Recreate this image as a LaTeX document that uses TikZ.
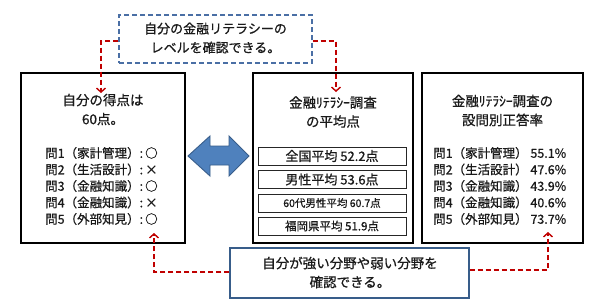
\documentclass[tikz,border=0pt]{standalone}
\usepackage{fontspec}
\setmainfont{Noto Sans CJK JP}[RawFeature={embolden=0.7}]
\usetikzlibrary{arrows.meta}
\definecolor{reddash}{HTML}{C00000}
\definecolor{bluedash}{HTML}{4A6FA5}
\definecolor{bluebox}{HTML}{4F81BD}
\definecolor{bluedark}{HTML}{385D8A}
\definecolor{txt}{HTML}{1A1A1A}
\begin{document}
\begin{tikzpicture}[x=1pt,y=-1pt,
  bigbox/.style={draw=black,line width=2pt,minimum width=#1,minimum height=170,inner sep=0pt},
  subbox/.style={draw=black!85,line width=0.9pt,minimum width=148,minimum height=18,inner sep=0pt,text=txt},
  head/.style={align=center,text=txt,font=\fontsize{13.5}{19}\selectfont,inner sep=0pt},
  list/.style={align=left,text=txt,font=\fontsize{12.5}{16.5}\selectfont,inner sep=0pt},
  link/.style={draw=reddash,line width=1.4pt,dash pattern=on 5pt off 3pt,-{Straight Barb[length=4pt,width=9pt,line width=1.4pt]}}
]
\useasboundingbox (0,0) rectangle (600,303);
\fill[white] (0,0) rectangle (600,303);

% top note
\node[draw=bluedash,line width=1.4pt,dash pattern=on 5pt off 3pt,minimum width=193,minimum height=48,inner sep=0pt] (top) at (215.5,39) {};
\node[head,font=\fontsize{13}{19}\selectfont] (toptxt) at (215.5,38) {自分の金融リテラシーの\\レベルを確認できる。};

% left box
\node[bigbox=164] (L) at (103,158) {};
\node[head] (Lh) at (103,109.5) {自分の得点は\\60点。};
\node[list,anchor=west] (Ll) at (45,186) {問1（家計管理）:\,○\\問2（生活設計）:\,×\\問3（金融知識）:\,○\\問4（金融知識）:\,×\\問5（外部知見）:\,○};

% middle box
\node[bigbox=160] (M) at (333,158) {};
\node[head] (Mh) at (333,112) {金融ﾘﾃﾗｼｰ調査\\の平均点};
\node[subbox,font=\fontsize{13}{14}\selectfont] (m1) at (332,156) {全国平均 52.2点};
\node[subbox,font=\fontsize{13}{14}\selectfont] (m2) at (332,179.5) {男性平均 53.6点};
\node[subbox,font=\fontsize{10.5}{12}\selectfont] (m3) at (332,203) {60代男性平均 60.7点};
\node[subbox,font=\fontsize{11.5}{12}\selectfont] (m4) at (332,226) {福岡県平均 51.9点};

% right box
\node[bigbox=161] (R) at (502.5,158) {};
\node[head] (Rh) at (502.5,110.5) {金融ﾘﾃﾗｼｰ調査の\\設問別正答率};
\node[list,anchor=west] (Rl) at (433,186) {問1（家計管理） 55.1\%\\問2（生活設計） 47.6\%\\問3（金融知識） 43.9\%\\問4（金融知識） 40.6\%\\問5（外部知見） 73.7\%};

% bottom note
\node[draw=bluedark,line width=1.4pt,minimum width=239,minimum height=50,inner sep=0pt] (bot) at (349.5,273) {};
\node[head] (bottxt) at (350,272.5) {自分が強い分野や弱い分野を\\確認できる。};

% double arrow
\draw[fill=bluebox,draw=bluedark,line width=0.9pt,line join=miter]
  (188,156) -- (210,136) -- (210,146) -- (229,146) -- (229,136) -- (249,156)
  -- (229,176) -- (229,165) -- (210,165) -- (210,176) -- cycle;

% connectors
\coordinate (e1) at (101,93);
\coordinate (e2) at (336,92);
\coordinate (e3) at (154,233);
\coordinate (e4) at (548,232);
\draw[link] ([yshift=-2pt]top.west) -| (e1);
\draw[link] ([yshift=-2pt]top.east) -| (e2);
\draw[link] ([yshift=1pt]bot.west) -| (e3);
\draw[link] ([yshift=3pt]bot.east) -| (e4);
\end{tikzpicture}
\end{document}
